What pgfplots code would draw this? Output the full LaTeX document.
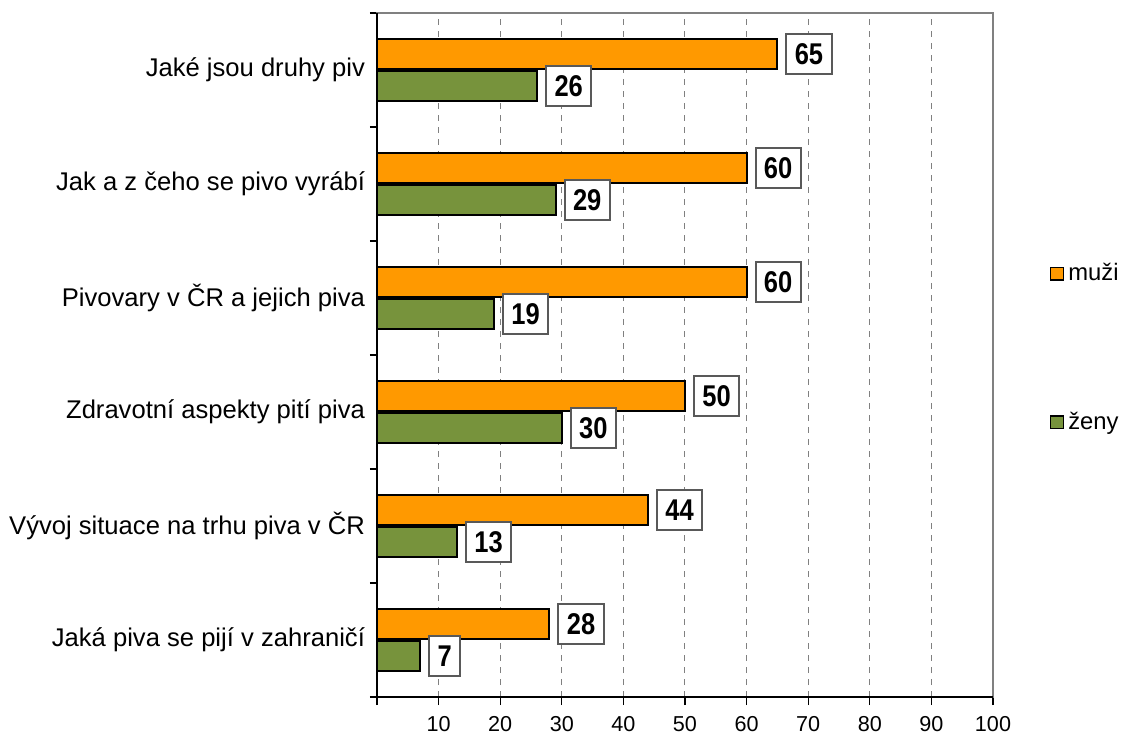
\documentclass[border=0pt]{standalone}
\usepackage{fontspec}
\setmainfont{Liberation Sans}
\newfontfamily\labelfont[FakeStretch=0.85]{Liberation Sans}
\usepackage{pgfplots}
\pgfplotsset{compat=1.18}
\definecolor{cOrange}{HTML}{FF9900}
\definecolor{cGreen}{HTML}{77933C}
\begin{document}
\begin{tikzpicture}
\begin{axis}[
  /pgf/number format/assume math mode=true,
  scale only axis,
  width=308pt, height=342pt,
  at={(0,0)}, anchor=south west,
  xmin=0, xmax=100, ymin=-0.5, ymax=5.5,
  xbar, bar width=15pt,
  xtick={0,10,...,100},
  xticklabels={{},10,20,30,40,50,60,70,80,90,100},
  ytick={0,1,2,3,4,5},
  yticklabels={Jaká piva se pijí v zahraničí, Vývoj situace na trhu piva v ČR, Zdravotní aspekty pití piva, Pivovary v ČR a jejich piva, Jak a z čeho se pivo vyrábí, Jaké jsou druhy piv},
  minor ytick={-0.5,0.5,...,5.5},
  tick align=outside,
  xtick pos=left, ytick pos=left,
  major tick length=4pt,
  y tick style={draw=none},
  minor y tick style={draw=black, line width=0.6pt},
  minor tick length=3.5pt,
  x tick style={black, line width=0.6pt},
  xmajorgrids,
  major grid style={dashed, gray, line width=0.5pt},
  axis line style={gray, line width=1pt},
  xticklabel style={font=\fontsize{10.8}{12}\selectfont, inner ysep=0.8pt, yshift=-4.6pt},
  yticklabel style={font=\fontsize{12.8}{14}\selectfont, xshift=1.5pt},
  clip=false,
  nodes near coords,
  nodes near coords style={anchor=west, xshift=4pt, draw=black!65, fill=white, line width=1pt,
     font=\fontsize{15}{16}\labelfont\bfseries, inner xsep=4.2pt, inner ysep=0pt, minimum height=20pt, text=black},
  legend style={at={(1.0914,0.64)}, anchor=north west, draw=none, fill=none,
     font=\fontsize{11.9}{13}\selectfont, row sep=60pt, inner sep=0pt},
  legend cell align=left,
  legend image code/.code={\draw[#1, line width=0.8pt] (0pt,-3.2pt) rectangle (6.5pt,3.2pt);},
]
\addplot[fill=cOrange, draw=black, line width=1pt, bar shift=8pt] coordinates {(65,5) (60,4) (60,3) (50,2) (44,1) (28,0)};
\addlegendentry{muži}
\addplot[fill=cGreen, draw=black, line width=1pt, bar shift=-8pt] coordinates {(26,5) (29,4) (19,3) (30,2) (13,1) (7,0)};
\addlegendentry{ženy}
\draw[black, line width=0.8pt] (rel axis cs:0,1) -- (rel axis cs:0,0) -- (rel axis cs:1,0);
\coordinate (sw) at (rel axis cs:0,0);
\end{axis}
\pgfresetboundingbox
\path[use as bounding box] (sw) ++(-188.5pt,-18pt) rectangle ++(562pt,366.5pt);
\end{tikzpicture}
\end{document}
